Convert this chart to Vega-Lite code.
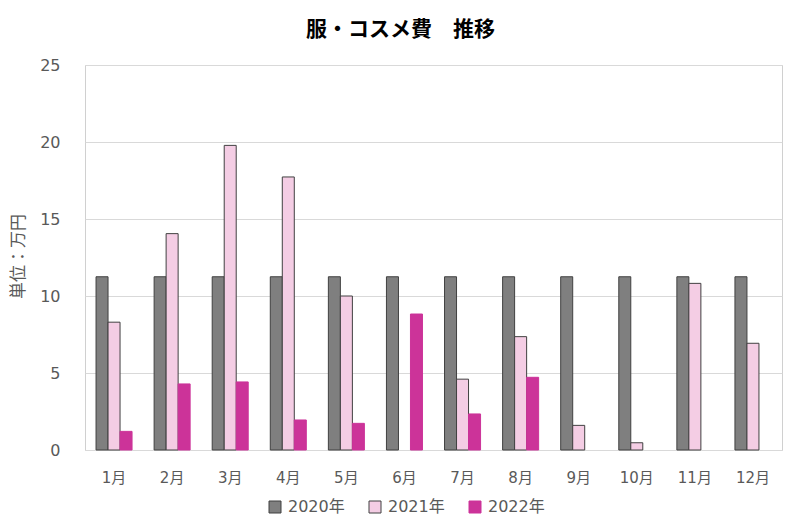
{
  "$schema": "https://vega.github.io/schema/vega-lite/v6.json",
  "width": 697,
  "height": 385,
  "autosize": {"type": "none"},
  "padding": {"left": 85, "top": 65, "right": 18, "bottom": 79},
  "background": "white",
  "config": {
    "font": "DejaVu Sans, Noto Sans CJK JP",
    "view": {"stroke": "#d0d0d0", "strokeWidth": 1}
  },
  "title": {
    "text": "服・コスメ費　推移",
    "font": "Noto Sans CJK JP",
    "fontSize": 21,
    "fontWeight": "bold",
    "color": "#000000",
    "anchor": "middle",
    "dx": -33,
    "offset": 17
  },
  "data": {
    "values": [
      {"month": "1月", "year": "2020年", "value": 11.25},
      {"month": "2月", "year": "2020年", "value": 11.25},
      {"month": "3月", "year": "2020年", "value": 11.25},
      {"month": "4月", "year": "2020年", "value": 11.25},
      {"month": "5月", "year": "2020年", "value": 11.25},
      {"month": "6月", "year": "2020年", "value": 11.25},
      {"month": "7月", "year": "2020年", "value": 11.25},
      {"month": "8月", "year": "2020年", "value": 11.25},
      {"month": "9月", "year": "2020年", "value": 11.25},
      {"month": "10月", "year": "2020年", "value": 11.25},
      {"month": "11月", "year": "2020年", "value": 11.25},
      {"month": "12月", "year": "2020年", "value": 11.25},
      {"month": "1月", "year": "2021年", "value": 8.3},
      {"month": "2月", "year": "2021年", "value": 14.05},
      {"month": "3月", "year": "2021年", "value": 19.78},
      {"month": "4月", "year": "2021年", "value": 17.73},
      {"month": "5月", "year": "2021年", "value": 10.0},
      {"month": "7月", "year": "2021年", "value": 4.6},
      {"month": "8月", "year": "2021年", "value": 7.36},
      {"month": "9月", "year": "2021年", "value": 1.6},
      {"month": "10月", "year": "2021年", "value": 0.47},
      {"month": "11月", "year": "2021年", "value": 10.82},
      {"month": "12月", "year": "2021年", "value": 6.93},
      {"month": "1月", "year": "2022年", "value": 1.21},
      {"month": "2月", "year": "2022年", "value": 4.29},
      {"month": "3月", "year": "2022年", "value": 4.42},
      {"month": "4月", "year": "2022年", "value": 1.95},
      {"month": "5月", "year": "2022年", "value": 1.73},
      {"month": "6月", "year": "2022年", "value": 8.83},
      {"month": "7月", "year": "2022年", "value": 2.34},
      {"month": "8月", "year": "2022年", "value": 4.72}
    ]
  },
  "mark": {"type": "bar", "strokeWidth": 1},
  "encoding": {
    "x": {
      "field": "month",
      "type": "nominal",
      "sort": ["1月","2月","3月","4月","5月","6月","7月","8月","9月","10月","11月","12月"],
      "scale": {"paddingInner": 0.38, "paddingOuter": 0.19},
      "axis": {
        "title": null,
        "labelAngle": 0,
        "ticks": false,
        "domain": false,
        "labelFontSize": 15,
        "labelColor": "#595959",
        "labelPadding": 20
      }
    },
    "xOffset": {"field": "year", "type": "nominal", "sort": ["2020年","2021年","2022年"]},
    "y": {
      "field": "value",
      "type": "quantitative",
      "scale": {"domain": [0, 25]},
      "axis": {
        "values": [0, 5, 10, 15, 20, 25],
        "title": "単位：万円",
        "titleFont": "Noto Sans CJK JP",
        "titleFontWeight": "normal",
        "titleFontSize": 17,
        "titleColor": "#595959",
        "titleAngle": -90,
        "titleX": -67,
        "titleY": 191,
        "titleAlign": "center",
        "titleBaseline": "middle",
        "domain": false,
        "ticks": false,
        "labelFontSize": 16,
        "labelColor": "#595959",
        "labelPadding": 25,
        "gridColor": "#d9d9d9",
        "gridWidth": 1
      }
    },
    "fill": {
      "field": "year",
      "type": "nominal",
      "sort": ["2020年","2021年","2022年"],
      "scale": {"range": ["#7f7f7f", "#f4cde4", "#cc3399"]},
      "legend": {
        "title": null,
        "orient": "none",
        "direction": "horizontal",
        "legendX": 182,
        "legendY": 434,
        "symbolType": "square",
        "symbolSize": 144,
        "symbolStrokeWidth": 1,
        "labelFontSize": 16,
        "labelColor": "#595959",
        "labelOffset": 5,
        "columnPadding": 22,
        "encode": {
          "symbols": {
            "update": {
              "stroke": {"scale": "stroke", "field": "value"}
            }
          }
        }
      }
    },
    "stroke": {
      "field": "year",
      "type": "nominal",
      "sort": ["2020年","2021年","2022年"],
      "scale": {"range": ["#404040", "#404040", "#cc3399"]},
      "legend": null
    }
  }
}
